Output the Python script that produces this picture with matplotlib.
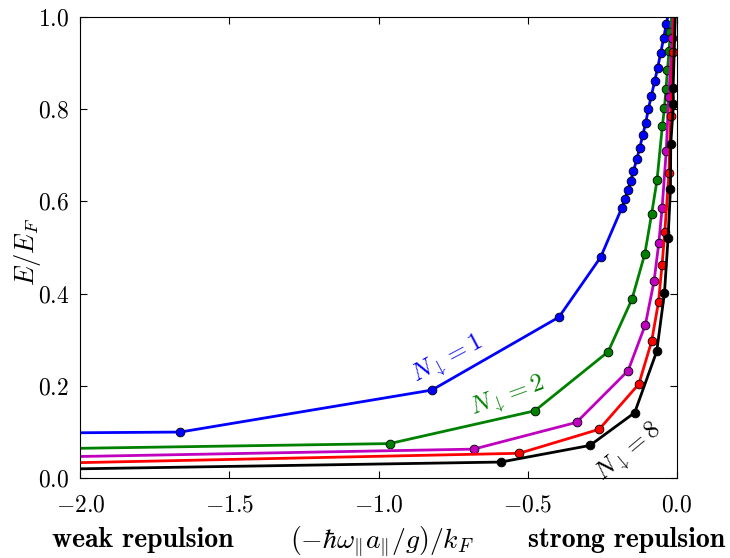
import numpy as np
import matplotlib
matplotlib.use("Agg")
import matplotlib.pyplot as plt

# N_down = 1
x1 = [-3.0, -1.665, -0.821, -0.395, -0.255, -0.184, -0.174, -0.164, -0.154, -0.145,
      -0.134, -0.124, -0.114, -0.104, -0.095, -0.085, -0.074, -0.064, -0.054, -0.044,
      -0.035, -0.025]
y1 = [0.094, 0.100, 0.191, 0.349, 0.479, 0.586, 0.605, 0.624, 0.645, 0.666,
      0.691, 0.716, 0.743, 0.770, 0.800, 0.829, 0.860, 0.889, 0.921, 0.953,
      0.984, 1.016]
# N_down = 2
x2 = [-3.0, -0.963, -0.476, -0.230, -0.150, -0.107, -0.084, -0.066, -0.048, -0.041,
      -0.036, -0.031, -0.026, -0.021, -0.016]
y2 = [0.055, 0.075, 0.146, 0.274, 0.388, 0.486, 0.573, 0.646, 0.764, 0.803,
      0.843, 0.884, 0.925, 0.968, 1.010]
# N_down = 4 (magenta)
x4 = [-3.0, -0.681, -0.336, -0.163, -0.105, -0.076, -0.060, -0.049, -0.035, -0.027,
      -0.015, -0.010]
y4 = [0.035, 0.063, 0.121, 0.233, 0.333, 0.427, 0.510, 0.585, 0.710, 0.825,
      0.954, 1.020]
# N_down = 6 (red)
x6 = [-3.0, -0.528, -0.260, -0.127, -0.084, -0.061, -0.049, -0.040, -0.026, -0.020,
      -0.012, -0.008]
y6 = [0.020, 0.054, 0.106, 0.204, 0.297, 0.382, 0.463, 0.534, 0.661, 0.785,
      0.923, 1.020]
# N_down = 8
x8 = [-3.0, -0.590, -0.291, -0.141, -0.067, -0.041, -0.029, -0.021, -0.020, -0.011,
      -0.012, -0.004]
y8 = [0.010, 0.035, 0.071, 0.142, 0.275, 0.402, 0.520, 0.627, 0.724, 0.810,
      0.845, 1.020]

SERIES = [(x1, y1, "b"), (x2, y2, "g"), (x4, y4, "m"), (x6, y6, "r"), (x8, y8, "k")]
COLORS = {"b": "#0000ff", "g": "#008000", "m": "#bf00bf", "r": "#ff0000", "k": "#000000"}

plt.rcParams["font.family"] = "serif"
plt.rcParams["font.serif"] = ["cmr10"]
plt.rcParams["mathtext.fontset"] = "cm"
plt.rcParams["axes.formatter.use_mathtext"] = True

fig = plt.figure(figsize=(7.3, 5.58), dpi=100)
ax = fig.add_axes([0.110, 0.143, 0.817, 0.827])

for xs, ys, c in SERIES:
    ax.plot(xs, ys, "-o", color=COLORS[c], lw=2, ms=6.3,
            markeredgecolor="k", markeredgewidth=0.6)

ax.set_xlim(-2.0, 0.0)
ax.set_ylim(0.0, 1.0)
ax.set_xticks([-2.0, -1.5, -1.0, -0.5, 0.0])
ax.set_yticks([0.0, 0.2, 0.4, 0.6, 0.8, 1.0])
ax.tick_params(direction="in", top=True, right=True, length=5, labelsize=17)
ax.tick_params(axis="x", pad=12)
ax.tick_params(axis="y", pad=8)
ax.set_ylabel(r"$E/E_F$", fontsize=19)
ax.yaxis.set_label_coords(-0.062, 0.49)

ax.text(-0.767, 0.258, r"$N_{\downarrow}=1$", color=COLORS["b"], fontsize=18,
        rotation=28, ha="center", va="center")
ax.text(-0.566, 0.176, r"$N_{\downarrow}=2$", color=COLORS["g"], fontsize=18,
        rotation=20, ha="center", va="center")
ax.text(-0.160, 0.056, r"$N_{\downarrow}=8$", color=COLORS["k"], fontsize=18,
        rotation=40, ha="center", va="center")

fig.text(0.196, 0.032, "weak repulsion", fontfamily="cmb10", fontsize=20,
         ha="center", va="center")
fig.text(0.523, 0.030, r"$(-\hbar\omega_{\Vert}a_{\Vert}/g)/k_F$", fontsize=20,
         ha="center", va="center")
fig.text(0.858, 0.032, "strong repulsion", fontfamily="cmb10", fontsize=20,
         ha="center", va="center")

fig.savefig("out.png", dpi=100)
